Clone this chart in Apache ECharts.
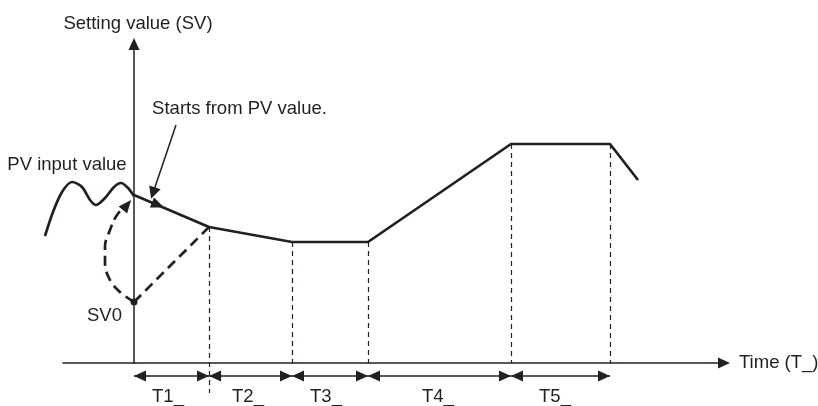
<!DOCTYPE html>
<html lang="en">
<head>
    <meta charset="UTF-8">
    <title>SV profile</title>
    <script src="https://cdn.jsdelivr.net/npm/echarts@6/dist/echarts.min.js"></script>
    <style>
        body { margin: 0; background: #fff; }
    </style>
</head>
<body>
<div id="chart" style="width: 818px;height:406px;"></div>
<script>

    // setting value profile (x: time, y: value)
    const svX = [0, 7.5, 15.8, 23.4, 37.7, 47.6, 50.4];
    const svY = [16.8, 13.6, 12.1, 12.1, 21.9, 21.9, 18.3];
    // PV input wave before start
    const pvX = [-8.9, -8.1, -7.2, -6.2, -5.2, -4.4, -3.8, -2.9, -2.0, -1.3, -0.6, 0];
    const pvY = [12.7, 15.1, 17.1, 18.1, 17.6, 16.3, 15.8, 16.5, 17.6, 18.0, 17.5, 16.7];
    // SV0 and the dashed paths from it
    const sv0 = [0, 6.1];
    const curveX = [0, -1.4, -2.4, -2.9, -2.9, -2.4, -1.7, -0.7];
    const curveY = [6.1, 7.1, 8.3, 10.0, 11.6, 13.3, 14.8, 15.8];
    // vertical guides
    const guideX = [7.5, 15.8, 23.4, 37.7, 47.6];
    const guideTop = [13.6, 12.1, 12.1, 21.9, 21.9];
    const guideBottom = [-3.0, 0, 0, 0, 0];
    // time spans
    const spanEdges = [0, 7.5, 15.8, 23.4, 37.7, 47.6];
    const spanY = -1.3;
    const spanNames = ['T1_', 'T2_', 'T3_', 'T4_', 'T5_'];
    const spanLabelX = [3.4, 11.4, 19.2, 30.4, 42.1];
    const spanLabelY = -3.35;
    // notes
    const noteText = ['PV input value', 'Starts from PV value.', 'SV0'];
    const noteX = [-6.7, 10.55, -2.95];
    const noteY = [19.85, 25.38, 4.67];
    const pointerFrom = [4.2, 23.8];
    const pointerTo = [1.9, 17.0];
    // arrowheads on the lines
    const headX = [2.4, -0.7];
    const headY = [15.8, 15.8];

    const ink = '#231f20';
    const font = 'Liberation Sans, Arial, sans-serif';

    const zip = (xs, ys) => xs.map((x, i) => [x, ys[i]]);

    let chart = echarts.init(document.getElementById('chart'));

    const hiddenAxis = {
        show: false,
        axisLine: {show: false},
        axisTick: {show: false},
        axisLabel: {show: false},
        splitLine: {show: false}
    };

    const spanSeries = spanNames.map((n, i) => ({
        type: 'line',
        silent: true,
        clip: false,
        lineStyle: {color: ink, width: 1.5},
        itemStyle: {color: ink, opacity: 1},
        data: [
            {value: [spanEdges[i], spanY], symbol: 'triangle', symbolSize: [11, 12], symbolRotate: 90, symbolOffset: [6, 0]},
            {value: [spanEdges[i + 1], spanY], symbol: 'triangle', symbolSize: [11, 12], symbolRotate: -90, symbolOffset: [-6, 0]}
        ]
    }));

    chart.setOption({
        animation: false,
        grid: [
            {left: 63, right: 94, top: 44, bottom: 43, containLabel: false, outerBoundsMode: 'none'},
            // same scale, wider on the left, for the PV wave
            {left: 40, right: 94, top: 44, bottom: 43, containLabel: false, outerBoundsMode: 'none'}
        ],
        xAxis: [{
            type: 'value',
            min: -7.1,
            max: 59.0,
            name: 'Time (T_)',
            nameGap: 15,
            nameTextStyle: {color: ink, fontSize: 18.5, fontFamily: font},
            axisLine: {
                lineStyle: {color: ink, width: 1.5},
                symbol: ['none', 'triangle'],
                symbolSize: [11, 12]
            },
            axisTick: {show: false},
            axisLabel: {show: false},
            splitLine: {show: false}
        }, Object.assign({type: 'value', gridIndex: 1, min: -9.4, max: 59.0}, hiddenAxis)],
        yAxis: [{
            type: 'value',
            min: 0,
            max: 31.9,
            name: 'Setting value (SV)',
            nameGap: 11,
            nameTextStyle: {color: ink, fontSize: 18.5, fontFamily: font, padding: [0, 0, 0, 8]},
            axisLine: {
                onZero: true,
                lineStyle: {color: ink, width: 1.5},
                symbol: ['none', 'triangle'],
                symbolSize: [11, 12]
            },
            axisTick: {show: false},
            axisLabel: {show: false},
            splitLine: {show: false}
        }, Object.assign({type: 'value', gridIndex: 1, min: 0, max: 31.9}, hiddenAxis)],
        series: [
            {
                type: 'lines',
                coordinateSystem: 'cartesian2d',
                silent: true,
                clip: false,
                symbol: 'none',
                lineStyle: {color: ink, width: 1.2, type: [5, 4], opacity: 1},
                data: guideX.map((x, i) => ({coords: [[x, guideTop[i]], [x, guideBottom[i]]]}))
            },
            {
                type: 'line',
                silent: true,
                showSymbol: false,
                lineStyle: {color: ink, width: 2.7},
                data: zip(svX, svY)
            },
            {
                type: 'line',
                xAxisIndex: 1,
                yAxisIndex: 1,
                silent: true,
                showSymbol: false,
                smooth: 0.3,
                lineStyle: {color: ink, width: 2.7},
                data: zip(pvX, pvY)
            },
            {
                type: 'line',
                silent: true,
                showSymbol: false,
                smooth: 0.4,
                clip: false,
                lineStyle: {color: ink, width: 2.7, type: [10, 6]},
                data: zip(curveX, curveY)
            },
            {
                type: 'line',
                silent: true,
                showSymbol: false,
                lineStyle: {color: ink, width: 2.7, type: [10, 6]},
                data: [sv0, [svX[1], svY[1]]]
            },
            {
                type: 'scatter',
                silent: true,
                symbol: 'circle',
                symbolSize: 7,
                itemStyle: {color: ink, opacity: 1},
                data: [sv0]
            },
            {
                type: 'scatter',
                silent: true,
                clip: false,
                symbol: 'triangle',
                symbolSize: [11, 13],
                itemStyle: {color: ink, opacity: 1},
                data: [
                    {value: [headX[0], headY[0]], symbolRotate: -112.5},
                    {value: [headX[1], headY[1]], symbolRotate: -39.5}
                ]
            },
            {
                type: 'lines',
                coordinateSystem: 'cartesian2d',
                silent: true,
                clip: false,
                symbol: ['none', 'triangle'],
                symbolSize: [9, 12],
                lineStyle: {color: ink, width: 1.5, opacity: 1},
                data: [{coords: [pointerFrom, pointerTo]}]
            },
            ...spanSeries,
            {
                type: 'scatter',
                silent: true,
                clip: false,
                symbolSize: 0,
                itemStyle: {opacity: 1},
                label: {
                    show: true,
                    position: 'inside',
                    formatter: p => p.name,
                    color: ink,
                    fontSize: 18.5,
                    fontFamily: font
                },
                data: noteText.map((t, i) => ({name: t, value: [noteX[i], noteY[i]]}))
                    .concat(spanNames.map((t, i) => ({name: t, value: [spanLabelX[i], spanLabelY]})))
            }
        ]
    });
</script>
</body>
</html>
